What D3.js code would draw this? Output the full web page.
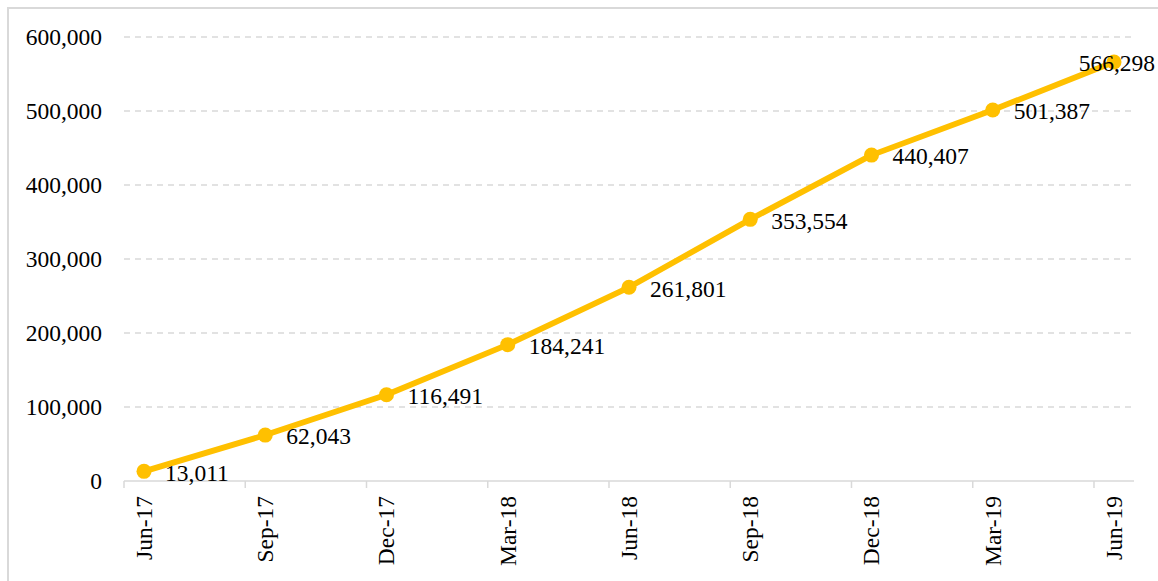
<!DOCTYPE html>
<html>
<head>
<meta charset="utf-8">
<script src="https://cdn.jsdelivr.net/npm/d3@7"></script>
<style>
  body { margin: 0; background: #fff; }
  text { font-family: "Liberation Serif", "Times New Roman", serif; fill: #000; }
</style>
</head>
<body>
<svg id="chart" width="1158" height="581"></svg>
<script>
// data
const quarters = ["Jun-17", "Sep-17", "Dec-17", "Mar-18", "Jun-18", "Sep-18", "Dec-18", "Mar-19", "Jun-19"];
const users = [13011, 62043, 116491, 184241, 261801, 353554, 440407, 501387, 566298];
const yTicks = [0, 100000, 200000, 300000, 400000, 500000, 600000];

const svg = d3.select("#chart");
const gold = "#FFC000";
const gridGrey = "#d9d9d9";
const fontSize = 23.5;

// outer frame (left + top visible)
svg.append("path")
  .attr("d", "M8,581 V8 H1158")
  .attr("fill", "none")
  .attr("stroke", gridGrey)
  .attr("stroke-width", 2);

// x is a date-like axis: points sit between the tick marks
const x = d3.scaleLinear()
  .domain([-0.165, quarters.length - 1 + 0.165])
  .range([124, 1134]);

const y = d3.scaleLinear()
  .domain([0, 600000])
  .range([481, 37]);

// gridlines
svg.append("g")
  .selectAll("line")
  .data(yTicks.filter(d => d > 0))
  .join("line")
  .attr("x1", x.range()[0])
  .attr("x2", x.range()[1])
  .attr("y1", d => y(d))
  .attr("y2", d => y(d))
  .attr("stroke", gridGrey)
  .attr("stroke-width", 1.5)
  .attr("stroke-dasharray", "6,5");

// y labels
svg.append("g")
  .selectAll("text")
  .data(yTicks)
  .join("text")
  .attr("x", 102)
  .attr("y", d => y(d))
  .attr("dy", "0.33em")
  .attr("text-anchor", "end")
  .style("font-size", fontSize + "px")
  .text(d => d3.format(",")(d));

// x axis line and ticks
const xAxis = svg.append("g");
xAxis.append("line")
  .attr("x1", x.range()[0])
  .attr("x2", x.range()[1])
  .attr("y1", y(0))
  .attr("y2", y(0))
  .attr("stroke", gridGrey)
  .attr("stroke-width", 1.5);

xAxis.selectAll("line.tick")
  .data(d3.range(quarters.length))
  .join("line")
  .attr("class", "tick")
  .attr("x1", i => x(i - 0.165))
  .attr("x2", i => x(i - 0.165))
  .attr("y1", y(0))
  .attr("y2", y(0) + 7)
  .attr("stroke", gridGrey)
  .attr("stroke-width", 1.5);

xAxis.selectAll("text")
  .data(quarters)
  .join("text")
  .attr("transform", (d, i) => `translate(${x(i)},496) rotate(-90)`)
  .attr("dy", "0.33em")
  .attr("text-anchor", "end")
  .style("font-size", fontSize + "px")
  .text(d => d);

// line
const line = d3.line()
  .x((d, i) => x(i))
  .y(d => y(d));

svg.append("path")
  .datum(users)
  .attr("d", line)
  .attr("fill", "none")
  .attr("stroke", gold)
  .attr("stroke-width", 5.8)
  .attr("stroke-linejoin", "round")
  .attr("stroke-linecap", "round");

svg.append("g")
  .selectAll("circle")
  .data(users)
  .join("circle")
  .attr("cx", (d, i) => x(i))
  .attr("cy", d => y(d))
  .attr("r", 7.5)
  .attr("fill", gold);

// data labels, right of each point, pulled back in if they would run off the edge
svg.append("g")
  .selectAll("text")
  .data(users)
  .join("text")
  .attr("y", d => y(d))
  .attr("dy", "0.4em")
  .style("font-size", fontSize + "px")
  .text(d => d3.format(",")(d))
  .each(function(d, i) {
    const w = this.getComputedTextLength();
    let lx = x(i) + 21;
    if (lx + w > 1155) lx = 1155 - w;
    d3.select(this).attr("x", lx);
  });
</script>
</body>
</html>
